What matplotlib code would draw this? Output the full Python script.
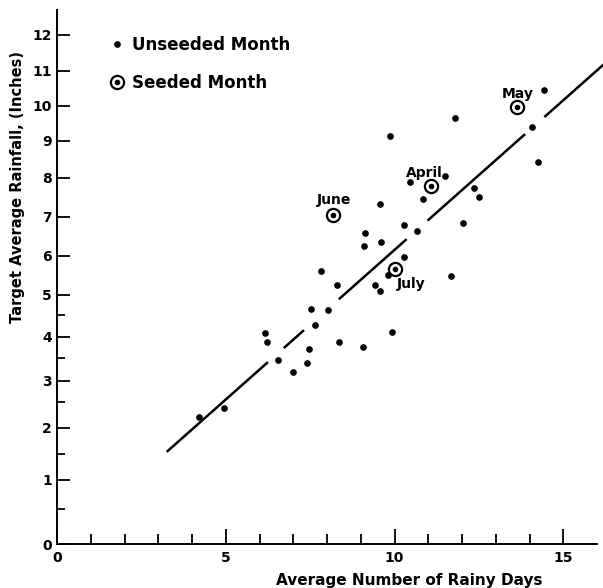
import numpy as np
import matplotlib
matplotlib.use('Agg')
import matplotlib.pyplot as plt
from matplotlib.lines import Line2D

# unseeded months: average number of rainy days vs target average rainfall
unseeded_days = [14.42, 11.80, 9.87, 14.07, 14.26, 11.51, 10.46, 10.84, 12.35, 12.51,
                 9.57, 12.04, 10.29, 10.67, 9.14, 9.10, 9.61, 10.29, 9.82, 7.81,
                 8.30, 9.41, 9.57, 11.66, 7.53, 8.02, 7.63, 6.17, 6.23, 8.35,
                 7.46, 9.06, 9.93, 6.55, 7.40, 6.99, 4.20, 4.95]
unseeded_rain = [10.46, 9.66, 9.15, 9.41, 8.43, 8.04, 7.89, 7.45, 7.75, 7.51,
                 7.33, 6.85, 6.80, 6.64, 6.58, 6.26, 6.35, 5.98, 5.51, 5.61,
                 5.26, 5.26, 5.11, 5.49, 4.65, 4.63, 4.27, 4.08, 3.87, 3.89,
                 3.72, 3.76, 4.11, 3.46, 3.38, 3.20, 2.22, 2.38]

# seeded months
seeded_names = ['May', 'April', 'June', 'July']
seeded_days = [13.64, 11.09, 8.17, 10.02]
seeded_rain = [9.96, 7.78, 7.05, 5.66]

# hand drawn fit line (ends) and the pieces it was drawn in
fit_days = [3.25, 16.2]
fit_rain = [1.54, 11.18]
fit_pieces = [(3.25, 6.25), (6.72, 7.32), (8.35, 10.36), (10.98, 13.87), (14.44, 16.2)]

# the printed rainfall axis is not evenly spaced: tick value -> row on the page
rain_marks = [-5, 0, 0.5, 1, 1.5, 2, 2.5, 3, 3.5, 4, 4.5, 5, 6, 7, 8, 9, 10, 11, 12, 20]
mark_rows = [894, 544, 509, 480, 454, 428, 402, 381, 358, 337, 315, 295,
             256, 217, 178, 141, 106, 71, 35, -253]

knots = np.array(rain_marks, dtype=float)
neg_rows = -np.array(mark_rows, dtype=float)


def fwd(v):
    return np.interp(v, knots, neg_rows)


def inv(p):
    return np.interp(p, neg_rows, knots)


plt.rcParams['font.family'] = 'DejaVu Sans'
plt.rcParams['font.weight'] = 'bold'

fig = plt.figure(figsize=(6.03, 5.88), dpi=100)
ax = fig.add_axes([57 / 603, 44 / 588, 540 / 603, 534 / 588])
ax.set_yscale('function', functions=(fwd, inv))
ax.set_xlim(0, 16)
ax.set_ylim(0, 12.69)

# fit line, straight on the page, broken where it runs through dots
f1, f2 = fwd(fit_rain[0]), fwd(fit_rain[1])
for a, b in fit_pieces:
    xs = np.array([a, b])
    fs = f1 + (xs - fit_days[0]) / (fit_days[1] - fit_days[0]) * (f2 - f1)
    ax.plot(xs, inv(fs), color='black', lw=1.8, solid_capstyle='butt', clip_on=False, zorder=2)

ax.plot(unseeded_days, unseeded_rain, ls='none', marker='o', ms=3.8, color='black', zorder=3)
ax.plot(seeded_days, seeded_rain, ls='none', marker='o', ms=9.5, mfc='white', mec='black',
        mew=1.6, zorder=3)
ax.plot(seeded_days, seeded_rain, ls='none', marker='o', ms=3.0, color='black', zorder=4)

offsets = {'May': (0, 6.5), 'April': (-5, 7), 'June': (1, 7.7), 'July': (11.2, -13.7)}
for name, d, r in zip(seeded_names, seeded_days, seeded_rain):
    ax.annotate(name, (d, r), xytext=offsets[name], textcoords='offset points',
                ha='center', va='baseline', fontsize=10, fontweight='bold')

# legend
dot = Line2D([], [], ls='none', marker='o', ms=3.8, color='black')
ring = Line2D([], [], ls='none', marker='o', ms=9.5, mfc='white', mec='black', mew=1.6)
ctr = Line2D([], [], ls='none', marker='o', ms=3.0, color='black')
ax.legend([dot, (ring, ctr)], ['Unseeded Month', 'Seeded Month'], loc='upper left',
          bbox_to_anchor=(0.0956, 0.9515), frameon=False, fontsize=12,
          handlelength=1.0, handletextpad=0.4, labelspacing=1.2,
          borderpad=0, borderaxespad=0)

# axes
for s in ['top', 'right']:
    ax.spines[s].set_visible(False)
for s in ['left', 'bottom']:
    ax.spines[s].set_linewidth(1.4)

ax.set_yticks(range(13))
ax.set_yticklabels([str(i) for i in range(13)])
ax.set_yticks([0.5, 1.5, 2.5, 3.5, 4.5], minor=True)
ax.set_xticks([0, 5, 10, 15])
ax.set_xticklabels(['0', '5', '10', '15'])
ax.set_xticks([i for i in range(1, 16) if i % 5], minor=True)
ax.tick_params(axis='y', which='major', direction='in', length=9.5, width=1.3, pad=3.6, labelsize=10)
ax.tick_params(axis='y', which='minor', direction='in', length=6, width=1.3)
ax.tick_params(axis='x', which='major', direction='in', length=11, width=1.3, pad=5, labelsize=10)
ax.tick_params(axis='x', which='minor', direction='in', length=7, width=1.3)
for lab in ax.get_xticklabels() + ax.get_yticklabels():
    lab.set_fontweight('bold')

ax.set_xlabel('Average Number of Rainy Days', fontsize=11, fontweight='bold')
ax.xaxis.set_label_coords(0.653, -0.0543)
ax.set_ylabel('Target Average Rainfall, (Inches)', fontsize=10.5, fontweight='bold')
ax.yaxis.set_label_coords(-0.0593, 0.669)

fig.savefig('out.png', dpi=100)
